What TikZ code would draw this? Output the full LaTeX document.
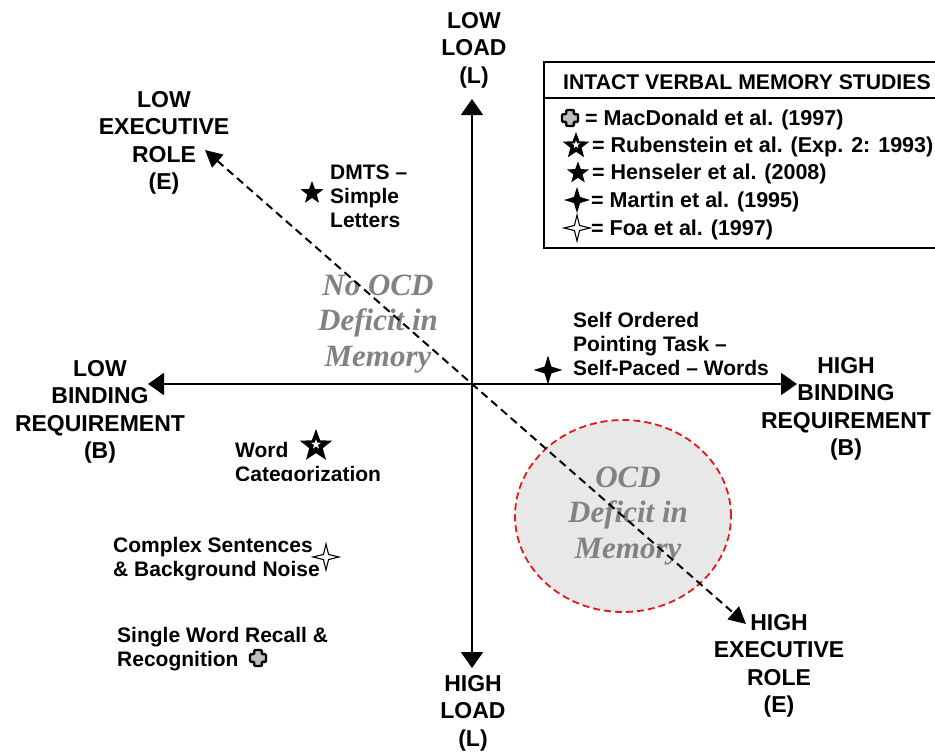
\documentclass[tikz,border=0pt]{standalone}
\usepackage{fontspec}
\setmainfont{Liberation Sans}
\newfontfamily\timesfont{Liberation Serif}
\usetikzlibrary{shapes.geometric, arrows.meta, positioning}

\definecolor{regiongray}{RGB}{130,130,130}
\definecolor{deficitred}{RGB}{232,24,24}
\definecolor{deficitfill}{RGB}{232,232,232}

\begin{document}
\begin{tikzpicture}[
         x=1pt, y=-1pt,
         axislabel/.style={font=\bfseries\fontsize{23}{27.5}\selectfont, align=center, anchor=north, inner sep=0pt},
         task/.style={font=\bfseries\fontsize{21}{24}\selectfont, align=left, anchor=north west, inner sep=0pt},
         region/.style={font=\timesfont\bfseries\itshape\fontsize{31}{35.5}\selectfont, text=regiongray, align=center, anchor=north, inner sep=0pt},
         legend/.style={font=\bfseries\fontsize{21.5}{24}\selectfont, anchor=base west, inner sep=0pt},
         axis/.style={line width=2pt, {Triangle[length=16pt,width=22pt]}-{Triangle[length=16pt,width=22pt]}},
         role/.style={line width=2pt, dash pattern=on 8pt off 5pt, {Triangle[length=17pt,width=17pt]}-{Triangle[length=17pt,width=17pt]}},
         henseler/.style={star, star points=5, star point ratio=2.4, fill=black, inner sep=0pt, minimum size=24pt},
         rubenstein/.style={henseler, minimum size=#1, path picture={
            \node[henseler, fill=white, minimum size=0.3*#1] at (path picture bounding box.center) {};}},
         martin/.style={star, star points=4, star point ratio=3, fill=black, inner sep=0pt, minimum size=#1},
         foa/.style={martin=26pt, star point ratio=3.6, draw=black, fill=white, line width=1.1pt},
         macdonald/.pic={
            \draw[line width=2.4pt, fill=gray!50, rounded corners=1pt]
               (-3.8,-8) -- (3.8,-8) -- (3.8,-3.8) -- (8,-3.8) -- (8,3.8) -- (3.8,3.8) -- (3.8,8)
               -- (-3.8,8) -- (-3.8,3.8) -- (-8,3.8) -- (-8,-3.8) -- (-3.8,-3.8) -- cycle;}
      ]
         \useasboundingbox (0,0) rectangle (935,752);

         % Region of the deficit
         \node[ellipse, draw=deficitred, fill=deficitfill, line width=1.8pt, dash pattern=on 7pt off 4pt,
               minimum width=216pt, minimum height=192pt] (deficit) at (623,516) {};
         \node[region] (ocd) at (628,466.5) {OCD\\Deficit in\\Memory};
         \node[region] (noocd) at (378,274.5) {No OCD\\Deficit in\\Memory};

         % Axis ends
         \coordinate (loadtop) at (472,99);
         \coordinate (loadbot) at (472,668);
         \coordinate (bindleft) at (148,384);
         \coordinate (bindright) at (797,384);
         \coordinate (exectop) at (205,150);
         \coordinate (execbot) at (746,624);

         \draw[axis] (loadbot) -- (loadtop);
         \draw[axis] (bindleft) -- (bindright);
         \draw[role] (exectop) -- (execbot);

         % Axis labels
         \node[axislabel] (lowload) at (474,12) {LOW\\LOAD\\(L)};
         \node[axislabel] (highload) at (473,675) {HIGH\\LOAD\\(L)};
         \node[axislabel] (lowbind) at (100,360) {LOW\\BINDING\\REQUIREMENT\\(B)};
         \node[axislabel] (highbind) at (846,357) {HIGH\\BINDING\\REQUIREMENT\\(B)};
         \node[axislabel] (lowexec) at (164,91) {LOW\\EXECUTIVE\\ROLE\\(E)};
         \node[axislabel] (highexec) at (779,614) {HIGH\\EXECUTIVE\\ROLE\\(E)};

         % Tasks
         \node[henseler] (dmtsmark) at (312,193) {};
         \node[task] (dmts) at (330,165) {DMTS --\\Simple\\Letters};
         \node[martin=29pt] (soptmark) at (548,370) {};
         \node[task] (sopt) at (573,312) {Self Ordered\\Pointing Task --\\Self-Paced -- Words};
         \node[rubenstein=34pt] (catmark) at (316,446) {};
         \begin{scope}
            % the bottom of this label is cut off
            \clip (220,425) rectangle (420,480);
            \node[task] (wordcat) at (235,442.5) {Word\\Categorization};
         \end{scope}
         \node[foa] (noisemark) at (326,557) {};
         \node[task] (noise) at (113,537.5) {Complex Sentences\\\& Background Noise};
         \pic (recallmark) at (258,658) {macdonald};
         \node[task] (recall) at (117,627) {Single Word Recall \&\\Recognition};

         % Legend
         \draw[line width=1.2pt] (544,62) rectangle (950,248);
         \draw[line width=1.2pt] (544,98) -- (950,98);
         \node[legend, font=\bfseries\fontsize{21.2}{24}\selectfont] (studies) at (563,89) {INTACT VERBAL MEMORY STUDIES};
         \pic (key1) at (570,118) {macdonald};
         \node[legend] (mac) at (585,125) {= MacDonald et al. (1997)};
         \node[rubenstein=28pt] (key2) at (576,146) {};
         \node[legend] (rub) at (592,152) {= Rubenstein et al. (Exp. 2: 1993)};
         \node[henseler, minimum size=23pt] (key3) at (578,173) {};
         \node[legend] (hen) at (592,179) {= Henseler et al. (2008)};
         \node[martin=26pt] (key4) at (577,200) {};
         \node[legend] (mar) at (591,207) {= Martin et al. (1995)};
         \node[foa] (key5) at (577,228) {};
         \node[legend] (foa) at (591,235) {= Foa et al. (1997)};

      \end{tikzpicture}
\end{document}
